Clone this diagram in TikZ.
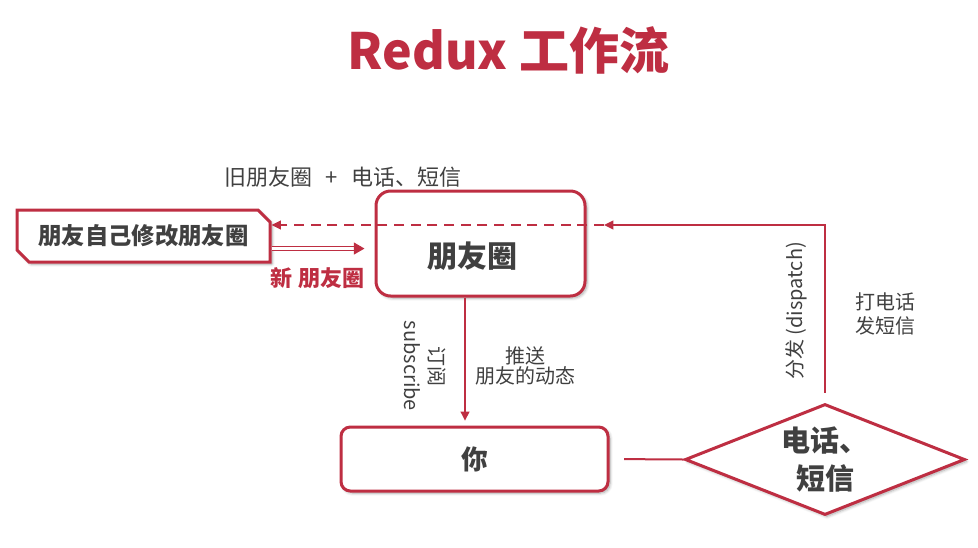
\documentclass[tikz,border=0pt]{standalone}
\usepackage{fontspec}
\setmainfont{Noto Sans CJK SC}
\usetikzlibrary{arrows.meta,shapes.geometric,shapes.misc,shadows.blur}
\definecolor{rd}{RGB}{190,46,66}
\definecolor{tx}{RGB}{64,64,64}
\begin{document}
\begin{tikzpicture}[x=0.75pt,y=-0.75pt,
  shad/.style={blur shadow={shadow xshift=1.5pt,shadow yshift=-1.5pt,shadow blur steps=6,shadow opacity=35}},
  box/.style={draw=rd, line width=2.25pt, fill=white, shad},
  lbl/.style={text=tx, font=\fontsize{15}{15}\selectfont, align=center, inner sep=0pt},
  conn/.style={draw=rd, line width=1.5pt},
  tip/.style={-{Triangle[length=7pt,width=6.5pt]}},
]
\useasboundingbox (0,0) rectangle (978,547);
% title
\node[text=rd, font=\bfseries\fontsize{37.5}{40}\selectfont, inner sep=0pt] (title) at (508.5,50) {Redux 工作流};
% boxes
\node[box, rounded corners=11pt, minimum width=156.75pt, minimum height=78.75pt] (pyq) at (480.5,243.5) {};
\node[text=tx, font=\bfseries\fontsize{22.5}{24}\selectfont, inner sep=0pt] (pyqt) at (472,256) {朋友圈};
\node[box, rounded corners=7pt, minimum width=200.25pt, minimum height=48pt,
      text=tx, font=\bfseries\fontsize{20}{22}\selectfont] (ni) at (474.5,459) {你};
\node[box, chamfered rectangle, chamfered rectangle corners={north east,south west},
      chamfered rectangle xsep=4.5pt, chamfered rectangle ysep=4.5pt,
      minimum width=189.75pt, minimum height=39pt, inner sep=0pt,
      text=tx, font=\bfseries\fontsize{17.5}{20}\selectfont] (lbox) at (143.5,236) {朋友自己修改朋友圈};
\node[box, diamond, aspect=2.52, minimum width=210pt, minimum height=83.25pt, inner sep=0pt,
      align=center, text=tx, font=\bfseries\fontsize{21.75}{28}\selectfont] (dm) at (825,459.5) {电话、\\短信};
% connectors
\coordinate (turn) at (825,225);
\coordinate (split) at (604,225);
\draw[conn, tip, shorten <=7.5pt] (dm.north) -- (turn) -- (split);
\draw[conn, tip, dash pattern=on 7.5pt off 5pt] (split) -- (lbox.east |- split);
\draw[draw=rd, line width=0.9pt, double=white, double distance=1.8pt, -{Triangle[length=8pt,width=9pt]}, shorten >=7.5pt]
  ([yshift=-9.4pt]lbox.east) -- ([yshift=-9.4pt]lbox.east -| pyq.west);
\draw[conn, tip, shorten >=3.5pt] (pyq.south -| 465,0) -- (ni.north -| 465,0);
\draw[conn, shorten <=11pt] (ni.east) -- (dm.west);
% labels
\node[lbl, font=\fontsize{16.5}{18}\selectfont] (old) at (343,177) {旧朋友圈\hspace{6pt} + \hspace{6pt}电话、短信};
\node[text=rd, font=\bfseries\fontsize{16.5}{18}\selectfont, inner sep=0pt] (new) at (317.5,278) {新 朋友圈};
\node[lbl, rotate=-90, font=\fontsize{15}{18.75}\selectfont] (sub) at (425,366) {订阅\\subscribe};
\node[lbl] (push) at (525,366) {推送\\朋友的动态};
\node[lbl, rotate=90] (disp) at (796,311) {分发 (dispatch)};
\node[lbl, font=\fontsize{15}{17.6}\selectfont] (call) at (885.5,314) {打电话\\发短信};
\end{tikzpicture}
\end{document}
